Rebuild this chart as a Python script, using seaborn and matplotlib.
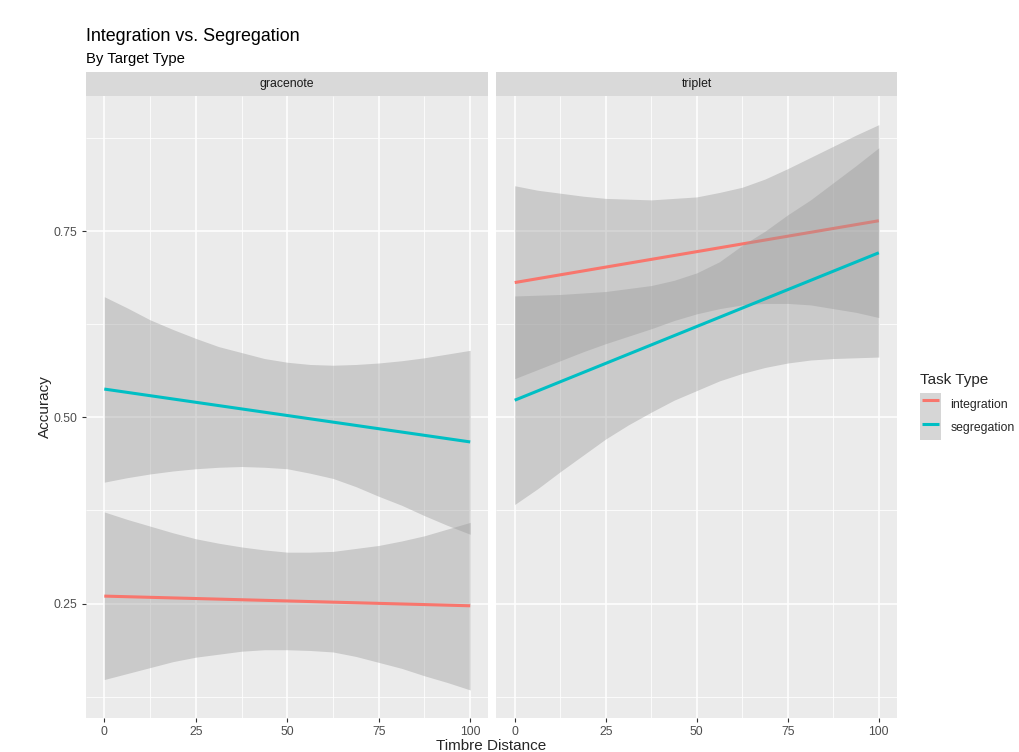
import numpy as np
import pandas as pd
import matplotlib
matplotlib.use("Agg")
import matplotlib.pyplot as plt
import seaborn as sns
from matplotlib.patches import Patch
from matplotlib.lines import Line2D
from matplotlib.legend_handler import HandlerTuple, HandlerLine2D
from matplotlib.ticker import FixedLocator

# ---------------- data ----------------
panels = ["gracenote", "triplet"]
tasks = ["integration", "segregation"]
task_colors = ["#F8766D", "#00BFC4"]

fit_x = [0, 100]
band_x = [0, 6.25, 12.5, 18.75, 25, 31.25, 37.5, 43.75, 50,
          56.25, 62.5, 68.75, 75, 81.25, 87.5, 93.75, 100]

grace_int_fit = [0.260, 0.247]
grace_int_lo = [0.148, 0.156, 0.164, 0.172, 0.178, 0.182, 0.186, 0.188, 0.188,
                0.187, 0.185, 0.179, 0.171, 0.163, 0.153, 0.144, 0.134]
grace_int_hi = [0.373, 0.363, 0.354, 0.345, 0.337, 0.331, 0.326, 0.322, 0.319,
                0.319, 0.320, 0.324, 0.328, 0.334, 0.341, 0.350, 0.359]

grace_seg_fit = [0.538, 0.467]
grace_seg_lo = [0.413, 0.419, 0.424, 0.428, 0.431, 0.433, 0.434, 0.433, 0.431,
                0.425, 0.418, 0.407, 0.394, 0.382, 0.368, 0.355, 0.343]
grace_seg_hi = [0.662, 0.647, 0.631, 0.618, 0.606, 0.595, 0.587, 0.579, 0.574,
                0.571, 0.570, 0.571, 0.573, 0.576, 0.580, 0.585, 0.590]

trip_int_fit = [0.681, 0.764]
trip_int_lo = [0.552, 0.564, 0.576, 0.588, 0.599, 0.609, 0.619, 0.630, 0.639,
               0.646, 0.651, 0.653, 0.653, 0.651, 0.646, 0.641, 0.634]
trip_int_hi = [0.811, 0.805, 0.801, 0.797, 0.794, 0.793, 0.792, 0.794, 0.796,
               0.802, 0.809, 0.820, 0.834, 0.849, 0.864, 0.879, 0.893]

trip_seg_fit = [0.523, 0.721]
trip_seg_lo = [0.383, 0.404, 0.427, 0.449, 0.471, 0.490, 0.507, 0.523, 0.536,
               0.549, 0.559, 0.567, 0.573, 0.577, 0.579, 0.580, 0.581]
trip_seg_hi = [0.663, 0.664, 0.665, 0.667, 0.669, 0.673, 0.677, 0.684, 0.694,
               0.709, 0.731, 0.750, 0.772, 0.792, 0.815, 0.838, 0.862]

x_ticks = [0, 25, 50, 75, 100]
y_ticks = [0.25, 0.50, 0.75]
y_tick_labels = ["0.25", "0.50", "0.75"]

title = "Integration vs. Segregation"
subtitle = "By Target Type"
x_label = "Timbre Distance"
y_label = "Accuracy"
legend_title = "Task Type"

fits = {
    ("gracenote", "integration"): grace_int_fit,
    ("gracenote", "segregation"): grace_seg_fit,
    ("triplet", "integration"): trip_int_fit,
    ("triplet", "segregation"): trip_seg_fit,
}
bands = {
    ("gracenote", "integration"): (grace_int_lo, grace_int_hi),
    ("gracenote", "segregation"): (grace_seg_lo, grace_seg_hi),
    ("triplet", "integration"): (trip_int_lo, trip_int_hi),
    ("triplet", "segregation"): (trip_seg_lo, trip_seg_hi),
}

fit_rows = []
for (p, t), ys in fits.items():
    for xv, yv in zip(fit_x, ys):
        fit_rows.append({"panel": p, "task": t, "dist": xv, "acc": yv})
df_fit = pd.DataFrame(fit_rows)

band_rows = []
for (p, t), (lo, hi) in bands.items():
    for xv, l, h in zip(band_x, lo, hi):
        band_rows.append({"panel": p, "task": t, "dist": xv, "lo": l, "hi": h})
df_band = pd.DataFrame(band_rows)

# ---------------- style ----------------
sns.set_style("white")
plt.rcParams["font.family"] = ["Liberation Sans", "DejaVu Sans"]
plt.rcParams["lines.solid_capstyle"] = "butt"

W, H = 1020, 752
fig = plt.figure(figsize=(W / 100, H / 100), dpi=100)

def fx(px):
    return px / W

def fy(py):
    return 1 - py / H

panel_px = [(86, 488.5), (496.5, 897)]
top_px, bot_px = 96, 717.5
strip_top = 72

for i, panel in enumerate(panels):
    x0, x1 = panel_px[i]
    ax = fig.add_axes([fx(x0), fy(bot_px), fx(x1 - x0), (bot_px - top_px) / H])
    ax.set_facecolor("#EBEBEB")
    for s in ax.spines.values():
        s.set_visible(False)

    for j, task in enumerate(tasks):
        b = df_band[(df_band.panel == panel) & (df_band.task == task)]
        ax.fill_between(b.dist, b.lo, b.hi, color="#999999", alpha=0.4,
                        linewidth=0, zorder=2 + 2 * j)
        f = df_fit[(df_fit.panel == panel) & (df_fit.task == task)]
        sns.lineplot(data=f, x="dist", y="acc", color=task_colors[j],
                     linewidth=2.2, ax=ax, zorder=3 + 2 * j, legend=False,
                     solid_capstyle="butt")

    ax.set_xlim(-5, 105)
    ax.set_ylim(0.097, 0.9315)
    ax.set_xticks(x_ticks)
    ax.set_xticklabels([str(v) for v in x_ticks])
    ax.set_yticks(y_ticks)
    ax.set_yticklabels(y_tick_labels)
    ax.xaxis.set_minor_locator(FixedLocator([12.5, 37.5, 62.5, 87.5]))
    ax.yaxis.set_minor_locator(FixedLocator([0.125, 0.375, 0.625, 0.875]))
    ax.grid(which="major", color="white", linewidth=1.1, zorder=0)
    ax.grid(which="minor", color="white", linewidth=0.55, zorder=0)
    ax.set_axisbelow(True)
    ax.tick_params(which="minor", length=0)
    ax.tick_params(which="major", length=3.2, width=0.8, color="#333333",
                   labelsize=8.8, labelcolor="#4D4D4D", pad=3.0,
                   direction="out", bottom=True, left=True)
    if i == 1:
        ax.tick_params(axis="y", left=False, labelleft=False)
    ax.set_xlabel("")
    ax.set_ylabel("")

    # facet strip
    sax = fig.add_axes([fx(x0), fy(top_px), fx(x1 - x0), (top_px - strip_top) / H])
    sax.set_facecolor("#D9D9D9")
    sax.set_xticks([])
    sax.set_yticks([])
    for s in sax.spines.values():
        s.set_visible(False)
    sax.text(0.5, 0.5, panel, ha="center", va="center", fontsize=8.8,
             color="#1A1A1A", transform=sax.transAxes)

# titles and axis labels
fig.text(fx(86), fy(41), title, fontsize=12.9, color="black", ha="left", va="baseline")
fig.text(fx(86), fy(63), subtitle, fontsize=10.7, color="black", ha="left", va="baseline")
fig.text(fx((86 + 897) / 2), fy(749.5), x_label, fontsize=11, ha="center", va="baseline")
fig.text(fx(45), fy((top_px + bot_px) / 2), y_label, fontsize=11, rotation=90,
         ha="center", va="center")

# legend
handles = [(Patch(facecolor="#999999", alpha=0.4, edgecolor="none"),
            Line2D([], [], color=c, linewidth=2.2, solid_capstyle="butt"))
           for c in task_colors]
leg = fig.legend(handles, tasks, title=legend_title, loc="upper left",
                 bbox_to_anchor=(fx(920), fy(373)), frameon=False,
                 fontsize=8.8, title_fontsize=11, handlelength=1.72,
                 handleheight=2.58, labelspacing=0.0, handletextpad=0.78,
                 borderpad=0, borderaxespad=0, alignment="left",
                 handler_map={tuple: HandlerTuple(ndivide=1, pad=0),
                              Line2D: HandlerLine2D(marker_pad=0.15, numpoints=2)})
leg._legend_box.sep = 4

fig.savefig("out.png", dpi=100)
